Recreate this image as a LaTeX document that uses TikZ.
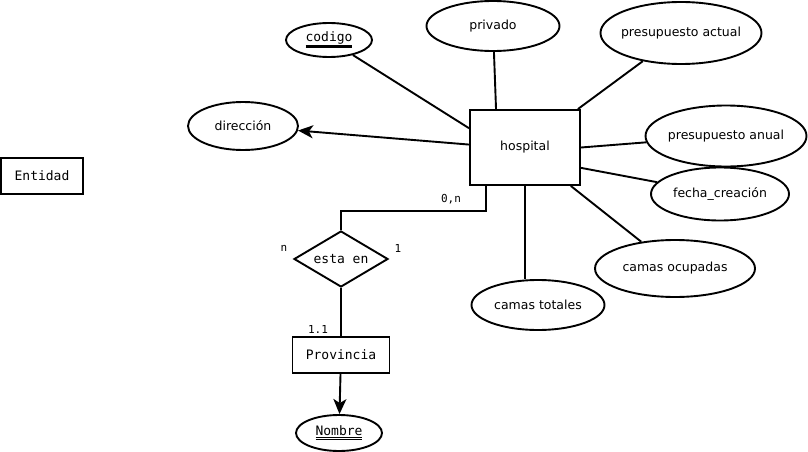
\documentclass[tikz,border=0pt]{standalone}
\usepackage{fontspec}
\setmainfont{DejaVu Sans}
\setmonofont{DejaVu Sans Mono}
\usetikzlibrary{shapes.geometric,arrows.meta}
\newcommand{\clave}[1]{\setbox0\hbox{#1}\vtop{\copy0\kern1.2pt\hrule width\wd0 height1.1pt\kern0.7pt\hrule width\wd0 height1.1pt}}
\begin{document}
\begin{tikzpicture}[x=1pt,y=-1pt,line width=1.9pt,
        entidad/.style={draw,rectangle,inner sep=0pt},
        atributo/.style={draw,ellipse,inner sep=0pt,inner xsep=-8pt,font=\fontsize{12.5}{15}\selectfont},
        relacion/.style={draw,diamond,aspect=1.68,inner sep=0pt,font=\ttfamily\fontsize{13}{15}\selectfont},
        mono/.style={font=\ttfamily\fontsize{13}{15}\selectfont},
        card/.style={inner sep=0pt,font=\ttfamily\fontsize{11}{13}\selectfont},
        flecha/.style={-{Stealth[length=15pt,width=13pt,inset=4pt]}}]
            \useasboundingbox (0,0) rectangle (808,452);
            % entidades
            \node[entidad,mono,minimum width=82pt,minimum height=36pt] (entidad) at (42,176) {Entidad};
            \node[entidad,font=\fontsize{12.5}{15}\selectfont,minimum width=110pt,minimum height=75pt] (hospital) at (525,147.5) {hospital};
            \node[entidad,mono,minimum width=97pt,minimum height=36pt] (provincia) at (341,355) {Provincia};
            \node[relacion,minimum width=94pt,minimum height=56pt] (estaen) at (341,259) {esta en};
            % atributos
            \node[atributo,mono,minimum width=86pt,minimum height=34pt] (codigo) at (329,40) {\clave{codigo}};
            \node[atributo,minimum width=133pt,minimum height=50pt] (privado) at (493,26) {privado};
            \node[atributo,minimum width=161pt,minimum height=62pt] (presactual) at (681,33) {presupuesto actual};
            \node[atributo,minimum width=110pt,minimum height=48pt] (direccion) at (243,126) {dirección};
            \node[atributo,minimum width=161pt,minimum height=61pt] (presanual) at (726,136) {presupuesto anual};
            \node[atributo,minimum width=138pt,minimum height=53pt] (fecha) at (720,194) {fecha\_creación};
            \node[atributo,minimum width=160pt,minimum height=57pt] (ocupadas) at (675,268.5) {camas ocupadas};
            \node[atributo,minimum width=133pt,minimum height=50pt] (totales) at (538,305) {camas totales};
            \node[atributo,mono,minimum width=86pt,minimum height=36pt] (nombre) at (339,433) {\clave{Nombre}};
            % cardinalidades
            \node[card] (cardhosp) at (451,199) {0,n};
            \node[card] (cardn) at (284,248) {n};
            \node[card] (card1) at (398,248) {1};
            \node[card] (cardprov) at (318,329) {1.1};
            % conexiones
            \draw (codigo) -- (hospital.161);
            \draw (privado) -- (hospital.127);
            \draw (presactual) -- (hospital.36);
            \draw[flecha] (hospital.177) -- (direccion);
            \draw (presanual) -- (hospital.0);
            \draw (fecha) -- (hospital.340);
            \draw (ocupadas) -- (hospital.320);
            \draw (hospital.south) -- (hospital.south |- totales.north);
            \draw ([xshift=-39pt]hospital.south) -- ++(0,25) -| (estaen.north);
            \draw (estaen.south) -- (provincia.north);
            \draw[flecha] (provincia) -- (nombre);
        \end{tikzpicture}
\end{document}
